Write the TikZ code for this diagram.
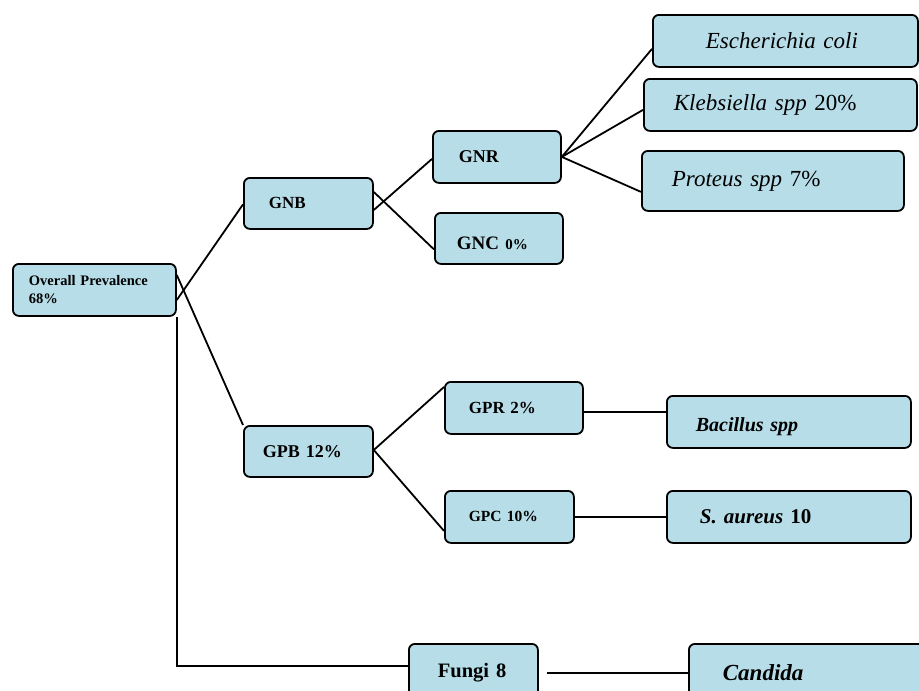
\documentclass[tikz,border=0pt]{standalone}
\usepackage{fontspec}
\setmainfont{Liberation Serif}
\usetikzlibrary{calc, positioning}
\definecolor{boxblue}{HTML}{B7DDE8}
\tikzset{
  box/.style={draw, fill=boxblue, line width=1.8pt, rounded corners=6pt,
    anchor=north west, align=left, inner ysep=0pt},
  link/.style={line width=1.8pt}
}

\begin{document}
\begin{tikzpicture}[x=1pt, y=-1pt]
\useasboundingbox (0,0) rectangle (919,691);
\clip (0,0) rectangle (919,691);
% first column
\node[box, minimum width=163pt, minimum height=52pt, inner xsep=16pt, text width=131pt,
  font=\fontsize{14.5}{18}\selectfont\bfseries] (prev) at (12,263) {Overall Prevalence\\68\%};
% gram negative
\node[box, minimum width=129pt, minimum height=51pt, inner xsep=25pt, text width=79pt,
  font=\fontsize{17}{20}\selectfont\bfseries] (gnb) at (243,177) {GNB};
\node[box, minimum width=128pt, minimum height=52pt, inner xsep=26pt, text width=76pt,
  font=\fontsize{18}{20}\selectfont\bfseries] (gnr) at (432,130) {GNR};
\node[box, minimum width=128pt, minimum height=51pt, inner xsep=22pt, text width=84pt,
  text height=22pt, font=\fontsize{19}{20}\selectfont\bfseries] (gnc) at (434,212) {GNC {\fontsize{15}{15}\selectfont 0\%}};
\node[box, minimum width=265pt, minimum height=52pt, inner xsep=53pt, text width=159pt,
  font=\fontsize{23}{25}\selectfont\itshape] (ecoli) at (652,14) {Escherichia coli};
\node[box, minimum width=273pt, minimum height=52pt, inner xsep=30pt, text width=213pt,
  font=\fontsize{23}{25}\selectfont] (kleb) at (643,78) {\textit{Klebsiella spp} 20\%};
\node[box, minimum width=262pt, minimum height=60pt, inner xsep=30pt, text width=202pt,
  font=\fontsize{23}{25}\selectfont] (prot) at (641,150) {\textit{Proteus spp} 7\%};
% gram positive
\node[box, minimum width=129pt, minimum height=51pt, inner xsep=19pt, text width=91pt,
  font=\fontsize{18}{20}\selectfont\bfseries] (gpb) at (243,425) {GPB 12\%};
\node[box, minimum width=138pt, minimum height=52pt, inner xsep=24pt, text width=90pt,
  font=\fontsize{17}{18}\selectfont\bfseries] (gpr) at (444,381) {GPR 2\%};
\node[box, minimum width=129pt, minimum height=52pt, inner xsep=24pt, text width=81pt,
  font=\fontsize{15.5}{18}\selectfont\bfseries] (gpc) at (444,490) {GPC 10\%};
\node[box, minimum width=244pt, minimum height=52pt, inner xsep=29pt, text width=186pt,
  text height=24pt, font=\fontsize{20}{22}\selectfont\bfseries\itshape] (bac) at (666,395) {Bacillus spp};
\node[box, minimum width=244pt, minimum height=52pt, inner xsep=33pt, text width=178pt,
  font=\fontsize{21}{23}\selectfont\bfseries] (saur) at (666,490) {\textit{S. aureus} 10};
% fungi
\node[box, minimum width=129pt, minimum height=58pt, inner xsep=29pt, text width=71pt,
  font=\fontsize{20.5}{22}\selectfont\bfseries] (fungi) at (408,643) {Fungi 8};
\node[box, minimum width=250pt, minimum height=58pt, inner xsep=34pt, text width=182pt,
  font=\fontsize{23}{25}\selectfont\bfseries\itshape] (cand) at (688,643) {Candida};

% connectors
\draw[link] ($(prev.north east)+(0,37)$) -- ($(gnb.west)+(0,1)$);
\draw[link] ($(prev.north east)+(0,12)$) -- (gpb.north west);
\draw[link] (prev.south east) |- ($(fungi.west)+(0,-7)$);
\draw[link] ($(gnb.north east)+(0,33)$) -- ($(gnr.west)+(0,2)$);
\draw[link] ($(gnb.north east)+(0,15)$) -- ($(gnc.west)+(0,11)$);
\draw[link] (gnr.east) -- ($(ecoli.west)+(0,8)$);
\draw[link] (gnr.east) -- ($(kleb.west)+(0,5)$);
\draw[link] (gnr.east) -- ($(prot.west)+(0,11)$);
\draw[link] ($(gpb.north east)+(0,25)$) -- ($(gpr.north west)+(0,6)$);
\draw[link] ($(gpb.north east)+(0,25)$) -- ($(gpc.west)+(0,14)$);
\draw[link] ($(gpr.north east)+(0,31)$) coordinate (gprout) -- (gprout -| bac.west);
\draw[link] (gpc.east) -- (saur.west);
\draw[link] ($(fungi.east)+(8,0)$) -- (cand.west);
\end{tikzpicture}
\end{document}
